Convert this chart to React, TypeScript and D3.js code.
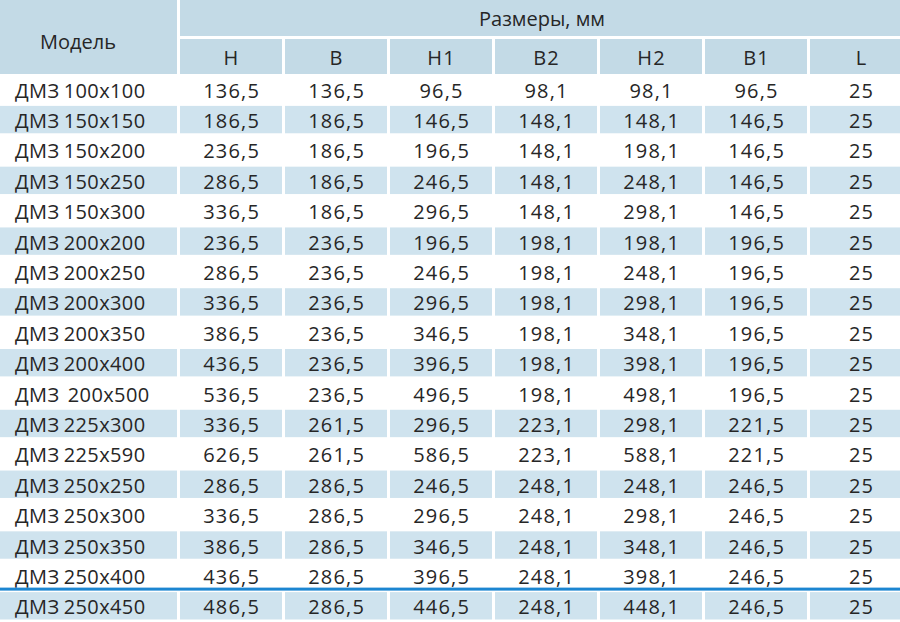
import * as d3 from "d3";
import { useEffect } from "react";

const models = [
  "ДМЗ 100x100", "ДМЗ 150x150", "ДМЗ 150x200", "ДМЗ 150x250", "ДМЗ 150x300",
  "ДМЗ 200x200", "ДМЗ 200x250", "ДМЗ 200x300", "ДМЗ 200x350", "ДМЗ 200x400",
  "ДМЗ  200x500", "ДМЗ 225x300", "ДМЗ 225x590", "ДМЗ 250x250", "ДМЗ 250x300",
  "ДМЗ 250x350", "ДМЗ 250x400", "ДМЗ 250x450",
];
const columns = ["H", "B", "H1", "B2", "H2", "B1", "L"];

const colH = [136.5, 186.5, 236.5, 286.5, 336.5, 236.5, 286.5, 336.5, 386.5, 436.5, 536.5, 336.5, 626.5, 286.5, 336.5, 386.5, 436.5, 486.5];
const colB = [136.5, 186.5, 186.5, 186.5, 186.5, 236.5, 236.5, 236.5, 236.5, 236.5, 236.5, 261.5, 261.5, 286.5, 286.5, 286.5, 286.5, 286.5];
const colH1 = [96.5, 146.5, 196.5, 246.5, 296.5, 196.5, 246.5, 296.5, 346.5, 396.5, 496.5, 296.5, 586.5, 246.5, 296.5, 346.5, 396.5, 446.5];
const colB2 = [98.1, 148.1, 148.1, 148.1, 148.1, 198.1, 198.1, 198.1, 198.1, 198.1, 198.1, 223.1, 223.1, 248.1, 248.1, 248.1, 248.1, 248.1];
const colH2 = [98.1, 148.1, 198.1, 248.1, 298.1, 198.1, 248.1, 298.1, 348.1, 398.1, 498.1, 298.1, 588.1, 248.1, 298.1, 348.1, 398.1, 448.1];
const colB1 = [96.5, 146.5, 146.5, 146.5, 146.5, 196.5, 196.5, 196.5, 196.5, 196.5, 196.5, 221.5, 221.5, 246.5, 246.5, 246.5, 246.5, 246.5];
const colL = [25, 25, 25, 25, 25, 25, 25, 25, 25, 25, 25, 25, 25, 25, 25, 25, 25, 25];

const values = [colH, colB, colH1, colB2, colH2, colB1, colL];

const W = 900;
const H = 622;
const headBlue = "#c3dae6";
const rowBlue = "#cfe3ee";
const textColor = "#262626";
const font = "'Open Sans', sans-serif";
const fs = 20;
const ls = 1.2; // разрядка цифр как в оригинале

// число в русском формате: запятая вместо точки
const fmt = (v: number) => (Number.isInteger(v) ? String(v) : v.toFixed(1).replace(".", ","));

export default function App() {
  useEffect(() => {
    document.body.style.margin = "0";
  }, []);

  const x = d3.scaleBand<string>().domain(columns).range([180, 912]).paddingInner(3 / 105);
  const y = d3.scaleBand<string>().domain(models.map((m, i) => i + "")).range([74, 621]);
  const step = y.step();
  const cx = (c: string) => (x(c) as number) + x.bandwidth() / 2 + ls / 2;

  return (
    <svg width={W} height={H} style={{ display: "block", fontFamily: font }}>
      <rect x={0} y={0} width={W} height={H} fill="#fff" />
      {/* шапка */}
      <rect x={0} y={0} width={177} height={74} fill={headBlue} />
      <rect x={180} y={0} width={W - 180} height={36} fill={headBlue} />
      <text x={78} y={41} textAnchor="middle" dominantBaseline="central" fontSize={fs} fill={textColor}>Модель</text>
      <text x={542} y={18} textAnchor="middle" dominantBaseline="central" fontSize={fs} fill={textColor}>Размеры, мм</text>
      {columns.map((c) => (
        <g key={c}>
          <rect x={x(c)} y={39} width={x.bandwidth()} height={35} fill={headBlue} />
          <text x={cx(c)} y={57} textAnchor="middle" dominantBaseline="central" fontSize={fs} letterSpacing={ls} fill={textColor}>{c}</text>
        </g>
      ))}
      {/* строки */}
      {models.map((m, i) => {
        const ry = y(i + "") as number;
        const striped = i % 2 === 1;
        return (
          <g key={i}>
            {striped && <rect x={0} y={ry + 1.5} width={177} height={step - 3} fill={rowBlue} />}
            {striped && columns.map((c) => (
              <rect key={c} x={x(c)} y={ry + 1.5} width={x.bandwidth()} height={step - 3} fill={rowBlue} />
            ))}
            <text x={15} y={ry + step / 2 + 1} dominantBaseline="central" fontSize={fs} letterSpacing={0.4} wordSpacing={-1.5} fill={textColor} style={{ whiteSpace: "pre" }}>{m}</text>
            {columns.map((c, j) => (
              <text key={c} x={cx(c)} y={ry + step / 2 + 1} textAnchor="middle" dominantBaseline="central" fontSize={fs} letterSpacing={ls} fill={textColor}>{fmt(values[j][i])}</text>
            ))}
          </g>
        );
      })}
      {/* синяя линия над последней строкой */}
      <rect x={0} y={(y(models.length - 1 + "") as number) - 3} width={W} height={3} fill="#1c86d1" />
    </svg>
  );
}
